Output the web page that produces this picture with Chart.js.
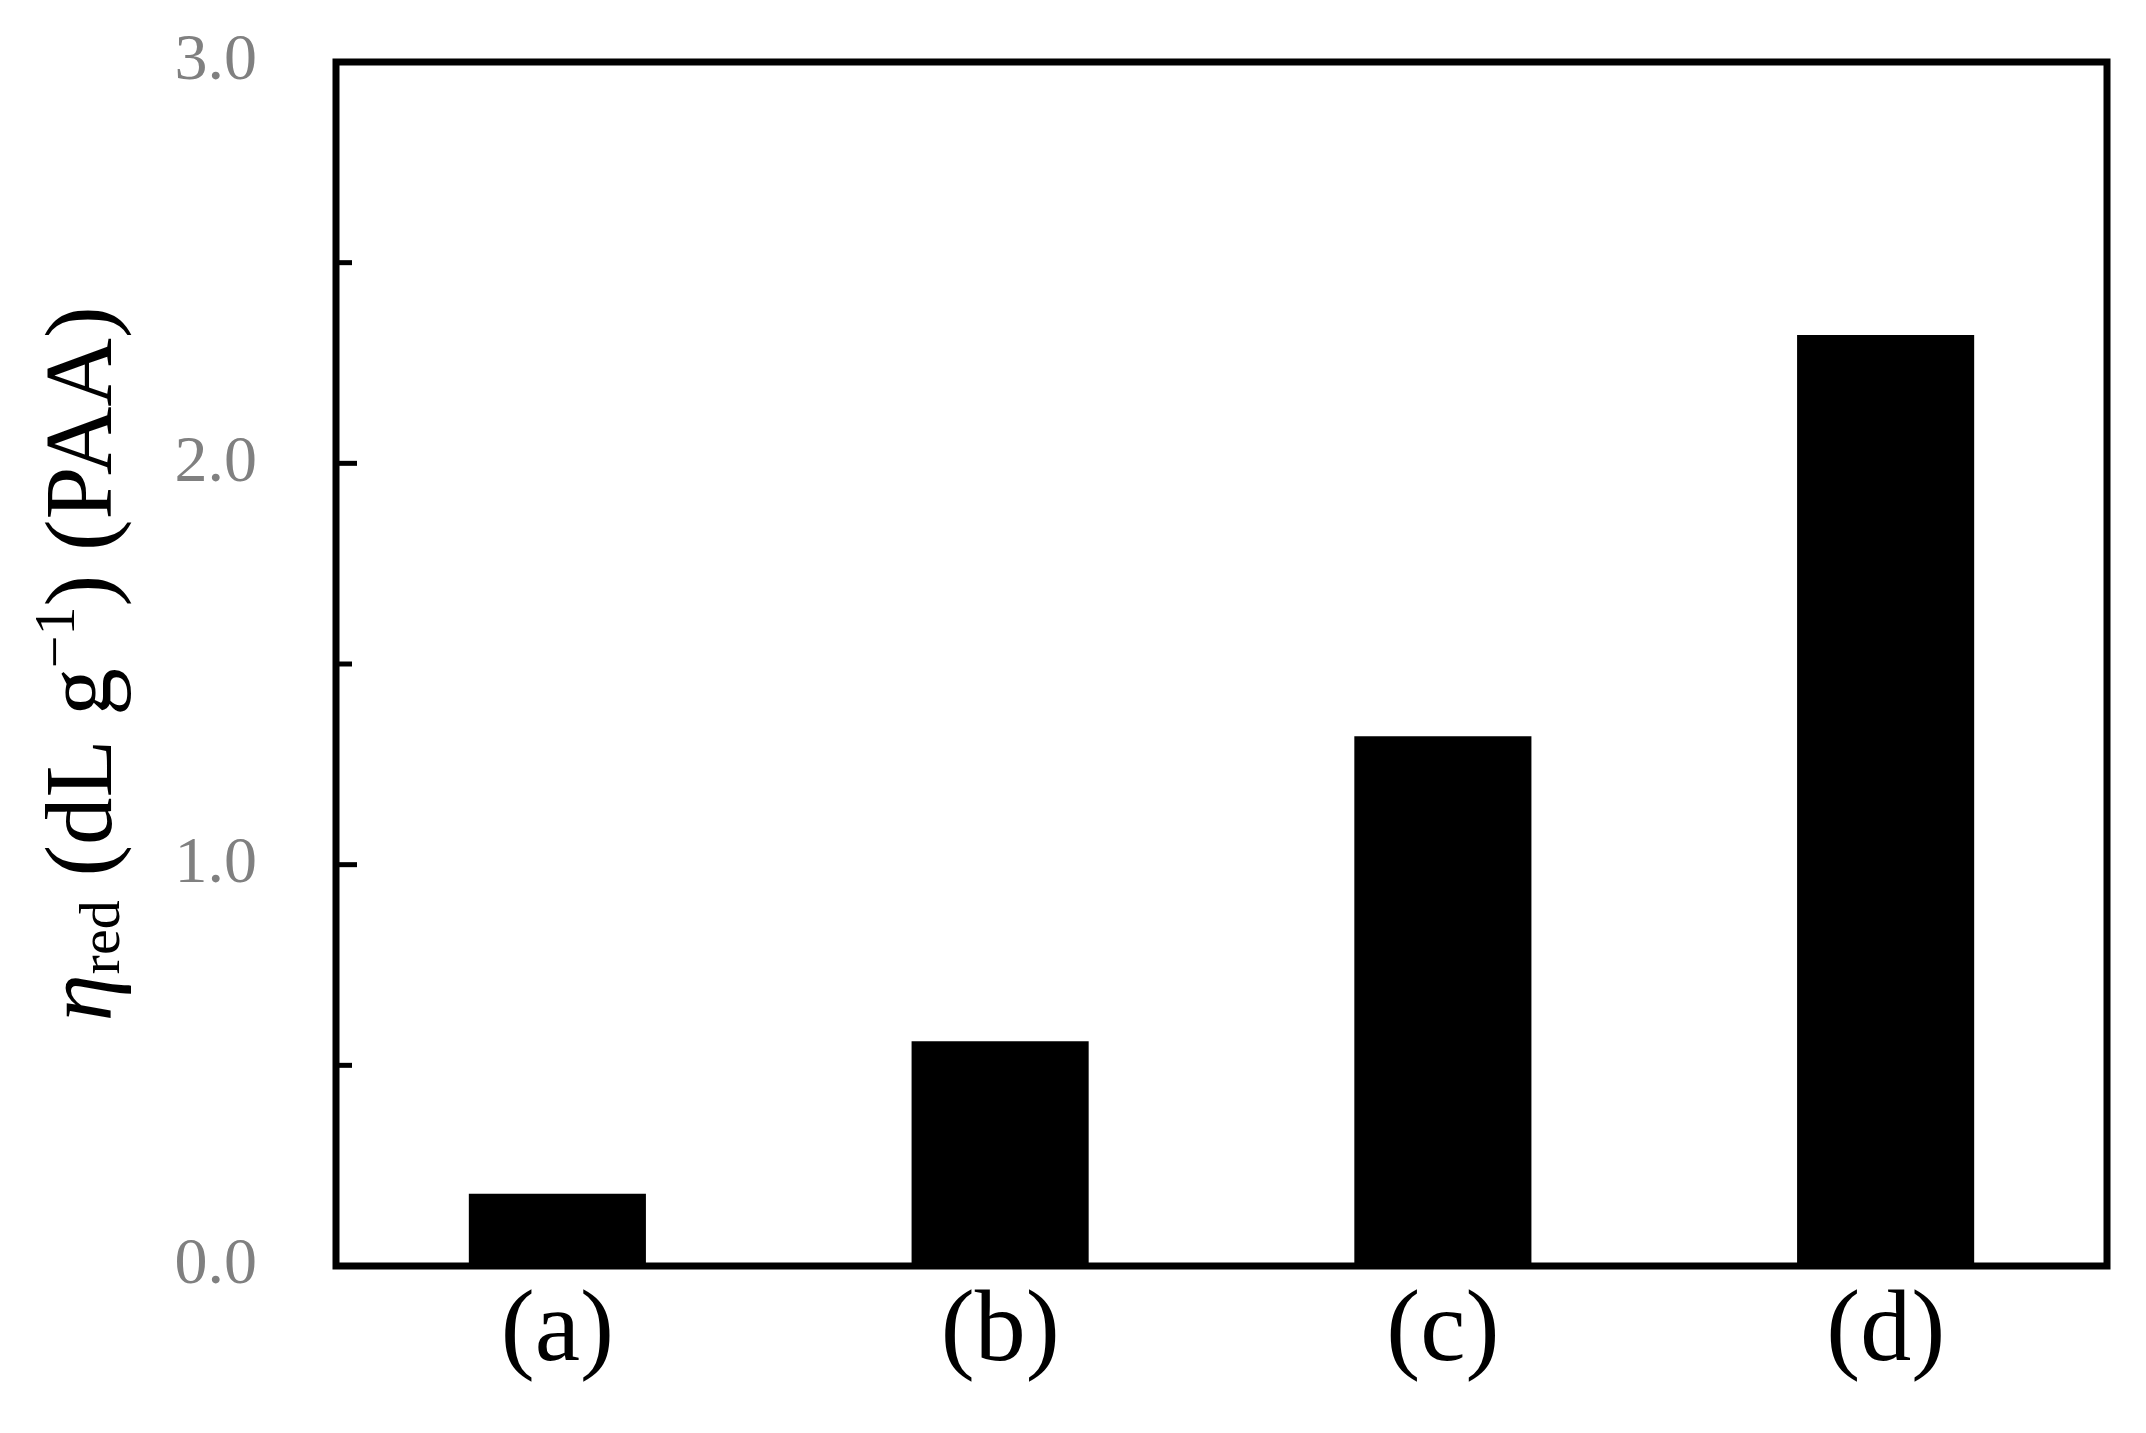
<!DOCTYPE html>
<html>
<head>
<meta charset="utf-8">
<script src="https://cdn.jsdelivr.net/npm/chart.js@4/dist/chart.umd.min.js"></script>
<style>
   html, body { margin: 0; padding: 0; background: #fff; }
   #wrap { width: 2146px; height: 1433px; position: relative; }
</style>
</head>
<body>
<div id="wrap"><canvas id="chart"></canvas></div>
<script>
// data
const categories = ["(a)", "(b)", "(c)", "(d)"];
const etaRed = [0.18, 0.56, 1.32, 2.32];
const yMin = 0;
const yMax = 3;
const yStep = 0.5;

const SERIF = "'Liberation Serif', 'Times New Roman', serif";
Chart.defaults.font.family = SERIF;

// box round the plot area + inward ticks on the left axis
const framePlugin = {
   id: "frame",
   afterDraw(chart) {
      const { ctx, chartArea: a, scales } = chart;
      ctx.save();
      ctx.strokeStyle = "#000";
      ctx.lineWidth = 7;
      ctx.lineJoin = "miter";
      ctx.strokeRect(a.left, a.top, a.right - a.left, a.bottom - a.top);

      ctx.lineWidth = 5;
      scales.y.ticks.forEach((t) => {
         const y = scales.y.getPixelForValue(t.value);
         const len = Number.isInteger(t.value) ? 21 : 16;
         ctx.beginPath();
         ctx.moveTo(a.left, y);
         ctx.lineTo(a.left + len, y);
         ctx.stroke();
      });
      ctx.restore();
   },
};

// y title with subscript / superscript
const yTitlePlugin = {
   id: "yTitle",
   afterDraw(chart) {
      const { ctx, chartArea: a } = chart;
      const big = 95;
      const small = 58;
      const parts = [
         { text: "\u03b7", font: `italic ${big}px ${SERIF}`, dy: 0 },
         { text: "red", font: `${small}px ${SERIF}`, dy: 8 },
         { text: " (dL g", font: `${big}px ${SERIF}`, dy: 0 },
         { text: "\u22121", font: `${small}px ${SERIF}`, dy: -37 },
         { text: ") (PAA)", font: `${big}px ${SERIF}`, dy: 0 },
      ];
      ctx.save();
      let total = 0;
      parts.forEach((p) => {
         ctx.font = p.font;
         p.w = ctx.measureText(p.text).width;
         total += p.w;
      });
      ctx.translate(111, (a.top + a.bottom) / 2);
      ctx.rotate(-Math.PI / 2);
      ctx.fillStyle = "#000";
      ctx.textBaseline = "alphabetic";
      ctx.textAlign = "left";
      let x = -total / 2;
      parts.forEach((p) => {
         ctx.font = p.font;
         ctx.fillText(p.text, x, p.dy);
         x += p.w;
      });
      ctx.restore();
   },
};

const config = {
   type: "bar",
   data: {
      labels: categories,
      datasets: [
         {
            data: etaRed,
            backgroundColor: "#000",
            borderWidth: 0,
            barPercentage: 0.4,
            categoryPercentage: 1.0,
         },
      ],
   },
   options: {
      responsive: true,
      maintainAspectRatio: false,
      devicePixelRatio: 1,
      animation: false,
      events: [],
      layout: { padding: { top: 62, right: 39, left: 0, bottom: 0 } },
      plugins: {
         legend: { display: false },
         tooltip: { enabled: false },
      },
      scales: {
         x: {
            grid: { display: false, drawTicks: false },
            border: { display: false },
            ticks: {
               color: "#000",
               font: { size: 102 },
               padding: 6,
            },
            afterFit: (scale) => {
               scale.height = 167;
               scale.paddingLeft = 0;
               scale.paddingRight = 0;
            },
         },
         y: {
            min: yMin,
            max: yMax,
            grid: { display: false, drawTicks: false },
            border: { display: false },
            ticks: {
               stepSize: yStep,
               autoSkip: false,
               color: "#808080",
               font: { size: 66 },
               padding: 79,
               callback: (v) => (Number.isInteger(v) ? v.toFixed(1) : ""),
            },
            afterFit: (scale) => {
               scale.width = 336;
               scale.paddingTop = 0;
               scale.paddingBottom = 0;
            },
         },
      },
   },
   plugins: [framePlugin, yTitlePlugin],
};

new Chart(document.getElementById("chart"), config);
</script>
</body>
</html>
